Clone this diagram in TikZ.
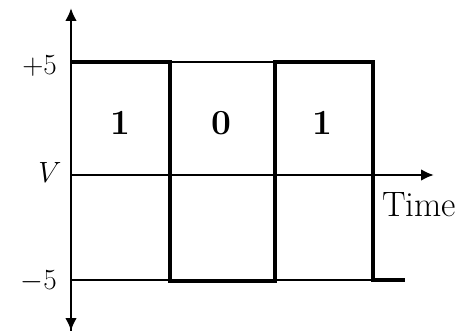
\documentclass[tikz,border=0pt]{standalone}
\usetikzlibrary{arrows.meta}
\begin{document}
\begin{tikzpicture}[x=.85pt,y=-.85pt,font=\fontsize{30}{32}\selectfont,
 grid/.style={line width=1.9pt},
 wave/.style={line width=3.6pt,line join=miter},
 ax/.style={line width=2.2pt,-{Latex[length=11pt,width=10pt]}}]
\useasboundingbox (0,0) rectangle (467,331);
% axes
\coordinate (o) at (71,175);
\coordinate (top) at (71,8);
\coordinate (bot) at (71,331);
\coordinate (tend) at (434,175);
\draw[grid] (71,62) rectangle (373,280);
\draw[ax] (bot) -- (top);
\draw[ax] (o) -- (bot);
\draw[ax] (o) -- (tend);
% signal
\draw[wave] (71,62) -- (170,62) -- (170,281) -- (275,281) -- (275,62)
 -- (373,62) -- (373,280) -- (405,280);
\foreach \x/\b [count=\i] in {120/1,221/0,322/1}
 \node (bit\i) at (\x,123) {\bfseries\b};
\node[anchor=east] (hi) at (61,66) {$+5$};
\node (v) at (50,172) {$V$};
\node[anchor=east] (lo) at (61,281) {$-5$};
\node (time) at (419,205) {Time};
\end{tikzpicture}
\end{document}
